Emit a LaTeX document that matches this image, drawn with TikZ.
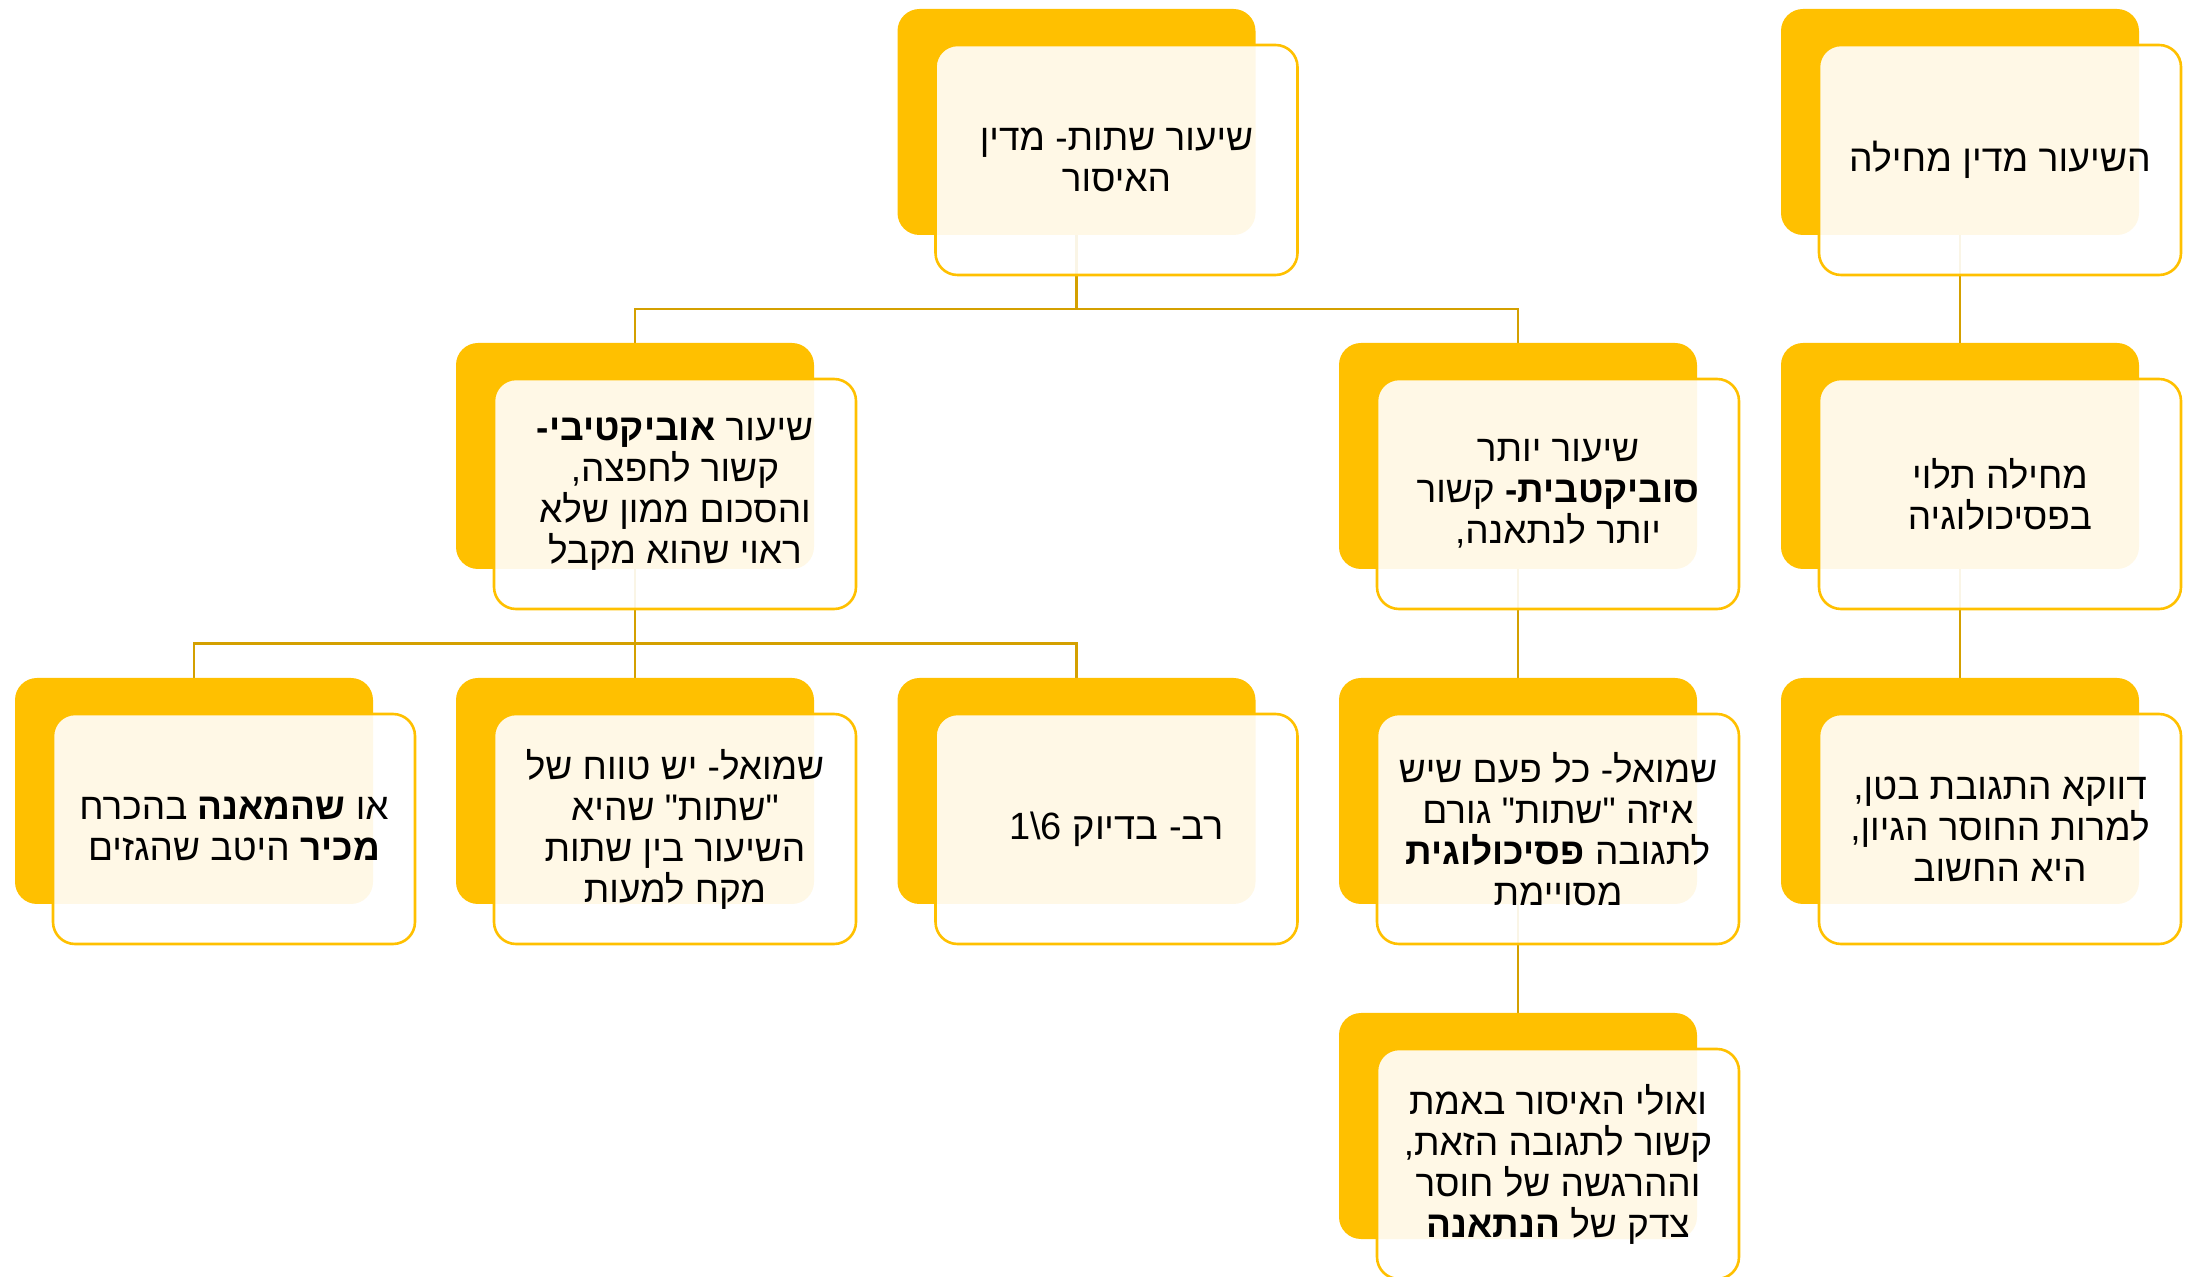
\documentclass[tikz,border=0pt]{standalone}
\usepackage{fontspec}
\usepackage{pgf,tikz}
\usetikzlibrary{positioning}
\usetikzlibrary{backgrounds}
\TeXXeTstate=1
\newfontfamily\heb[Script=Hebrew]{Liberation Sans}
\newfontfamily\lat{Liberation Sans}
\definecolor{gold}{HTML}{FFC000}
\definecolor{golddark}{HTML}{D4A000}
\newcommand{\rl}[1]{\beginR #1\endR}
\begin{document}
\begin{tikzpicture}[line cap=round,line join=round,x=0.5pt,y=-0.5pt,
back/.style={rectangle,rounded corners=11pt,fill=gold,minimum width=179pt,minimum height=113pt,inner sep=0pt},
front/.style={rectangle,rounded corners=11pt,draw=gold,line width=1.3pt,fill=white,fill opacity=0.9,text opacity=1,minimum width=181pt,minimum height=115pt,inner sep=0pt,align=center,font=\heb\fontsize{18.5}{20.5}\selectfont,xshift=20pt,yshift=-19pt},
link/.style={draw=golddark,line width=1.25pt}]
\useasboundingbox (0,0) rectangle (2186,1277);
\node[back] (issurbg) at (1076.5,122) {};
\node[back] (mechbg) at (1960,122) {};
\node[back] (objbg) at (635,456) {};
\node[back] (subjbg) at (1518,456) {};
\node[back] (psychbg) at (1960,456) {};
\node[back] (hukrabg) at (194,791) {};
\node[back] (shmuelbg) at (635,791) {};
\node[back] (ravbg) at (1076.5,791) {};
\node[back] (shmuelbbg) at (1518,791) {};
\node[back] (betenbg) at (1960,791) {};
\node[back] (ulaibg) at (1518,1126) {};
\node[front] (issur) at (issurbg) {\rl{שיעור שתות- מדין}\\\rl{האיסור}};
\node[front,font=\heb\fontsize{18.7}{20.5}\selectfont] (mech) at (mechbg) {\rl{השיעור מדין מחילה}};
\node[front] (obj) at (objbg) {\rl{שיעור \textbf{אוביקטיבי-}}\\\rl{קשור לחפצה,}\\\rl{והסכום ממון שלא}\\\rl{ראוי שהוא מקבל}};
\node[front] (subj) at (subjbg) {\rl{שיעור יותר}\\\rl{\textbf{סוביקטבית-} קשור}\\\rl{יותר לנתאנה,}};
\node[front] (psych) at (psychbg) {\rl{מחילה תלוי}\\\rl{בפסיכולוגיה}};
\node[front] (hukra) at (hukrabg) {\rl{או \textbf{שהמאנה} בהכרח}\\\rl{\textbf{מכיר} היטב שהגזים}};
\node[front] (shmuel) at (shmuelbg) {\rl{שמואל- יש טווח של}\\\rl{"שתות" שהיא}\\\rl{השיעור בין שתות}\\\rl{מקח למעות}};
\node[front,font=\heb\fontsize{19}{20.5}\selectfont] (rav) at (ravbg) {\rl{רב- בדיוק \hbox{\lat 1\textbackslash 6}}};
\node[front] (shmuelb) at (shmuelbbg) {\rl{שמואל- כל פעם שיש}\\\rl{איזה "שתות" גורם}\\\rl{לתגובה \textbf{פסיכולוגית}}\\\rl{מסויימת}};
\node[front] (beten) at (betenbg) {\rl{דווקא התגובת בטן,}\\\rl{למרות החוסר הגיון,}\\\rl{היא החשוב}};
\node[front] (ulai) at (ulaibg) {\rl{ואולי האיסור באמת}\\\rl{קשור לתגובה הזאת,}\\\rl{וההרגשה של חוסר}\\\rl{צדק של \textbf{הנתאנה}}};
\coordinate (j1) at (1076.5,309);
\coordinate (j2) at (635,643.5);
\begin{scope}[on background layer]
\draw[link] (issurbg.south) -- (j1);
\draw[link] (j1) -| (objbg.north);
\draw[link] (j1) -| (subjbg.north);
\draw[link] (mechbg.south) -- (psychbg.north);
\draw[link] (objbg.south) -- (j2);
\draw[link] (j2) -| (hukrabg.north);
\draw[link] (j2) -| (shmuelbg.north);
\draw[link] (j2) -| (ravbg.north);
\draw[link] (subjbg.south) -- (shmuelbbg.north);
\draw[link] (shmuelbbg.south) -- (ulaibg.north);
\draw[link] (psychbg.south) -- (betenbg.north);
\end{scope}
\end{tikzpicture}
\end{document}
